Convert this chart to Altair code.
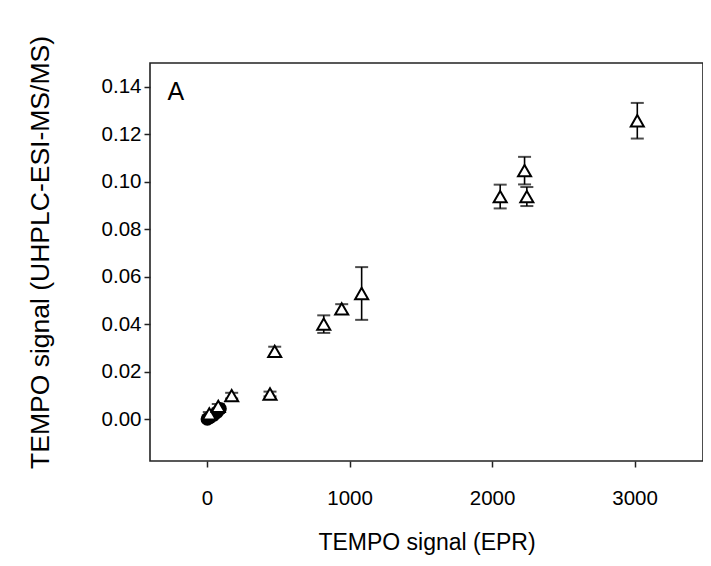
import altair as alt
import pandas as pd

# open triangles (mean) with error bars (+/-)
tri_x = [16, 79, 173, 442, 475, 819, 945, 1085, 2057, 2228, 2244, 3019]
tri_y = [0.0023, 0.0055, 0.0100, 0.0107, 0.0286, 0.0401, 0.0465, 0.0530, 0.0938, 0.1047, 0.0938, 0.1257]
tri_err = [0.0008, 0.0010, 0.0012, 0.0010, 0.0020, 0.0037, 0.0020, 0.0111, 0.0050, 0.0058, 0.0040, 0.0075]

# filled black circles near the origin
circ_x = [2, 20, 45, 70, 92]
circ_y = [0.0002, 0.0008, 0.0018, 0.0030, 0.0045]

# panel label
label_text = ["A"]
label_x = [-218]
label_y = [0.1376]

x_ticks = [0, 1000, 2000, 3000]
y_ticks = [0.00, 0.02, 0.04, 0.06, 0.08, 0.10, 0.12, 0.14]

tri = pd.DataFrame({
    "x": tri_x,
    "y": tri_y,
    "lo": [y - e for y, e in zip(tri_y, tri_err)],
    "hi": [y + e for y, e in zip(tri_y, tri_err)],
})
circ = pd.DataFrame({"x": circ_x, "y": circ_y})
lab = pd.DataFrame({"t": label_text, "x": label_x, "y": label_y})

FONT = "Liberation Sans"

xs = alt.Scale(domain=[-400, 3480], nice=False, zero=False)
ys = alt.Scale(domain=[-0.0175, 0.15], nice=False, zero=False)

xax = alt.Axis(values=x_ticks, format="d", title="TEMPO signal (EPR)",
               titleY=81, titleBaseline="middle", titleFontSize=23,
               labelFontSize=20.5, labelBaseline="middle", labelPadding=31)
yax = alt.Axis(values=y_ticks, format=".2f", title="TEMPO signal (UHPLC-ESI-MS/MS)",
               titleX=-110, titleY=189, titleAngle=-90, titleAlign="center",
               titleBaseline="middle", titleFontSize=26.5,
               labelFontSize=20.5, labelPadding=3)

base_tri = alt.Chart(tri)

rules = base_tri.mark_rule(color="black", strokeWidth=1.6).encode(
    x=alt.X("x:Q", scale=xs, axis=xax),
    y=alt.Y("lo:Q", scale=ys, axis=yax),
    y2="hi:Q",
)
cap_lo = base_tri.mark_tick(orient="horizontal", color="black", size=13, thickness=2).encode(
    x=alt.X("x:Q", scale=xs), y=alt.Y("lo:Q", scale=ys))
cap_hi = base_tri.mark_tick(orient="horizontal", color="black", size=13, thickness=2).encode(
    x=alt.X("x:Q", scale=xs), y=alt.Y("hi:Q", scale=ys))

circles = alt.Chart(circ).mark_circle(color="black", size=180, opacity=1).encode(
    x=alt.X("x:Q", scale=xs), y=alt.Y("y:Q", scale=ys))

triangles = base_tri.mark_point(shape="triangle-up", filled=True, fill="white",
                                stroke="black", strokeWidth=2, size=170, opacity=1).encode(
    x=alt.X("x:Q", scale=xs), y=alt.Y("y:Q", scale=ys))

text = alt.Chart(lab).mark_text(fontSize=25, font=FONT, align="center", baseline="middle",
                                color="black").encode(
    x=alt.X("x:Q", scale=xs), y=alt.Y("y:Q", scale=ys), text="t:N")

chart = alt.layer(rules, cap_lo, cap_hi, circles, triangles, text).properties(
    width=553, height=398,
    autosize=alt.AutoSizeParams(type="none"),
    padding={"left": 142, "top": 55, "right": 0, "bottom": 97},
).configure_view(
    stroke="#222222", strokeWidth=1.6, fill="white"
).configure_axis(
    grid=False, domain=False,
    labelFont=FONT, titleFont=FONT,
    titleFontWeight="normal",
    labelColor="black", titleColor="black",
    tickColor="#222222", tickWidth=1.5, tickSize=6,
)

chart.save("out.html", embed_options={"renderer": "svg", "actions": False})
